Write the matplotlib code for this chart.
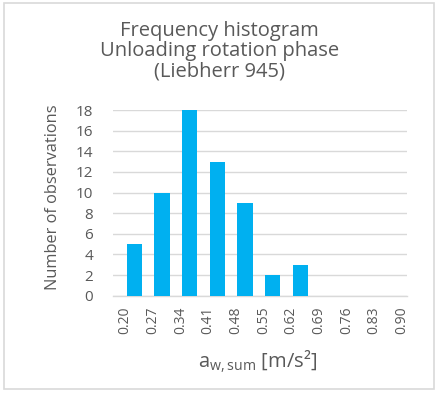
import matplotlib
matplotlib.use('Agg')
import matplotlib.pyplot as plt
from matplotlib.patches import Rectangle

plt.rcParams['font.family'] = ['Open Sans', 'DejaVu Sans']
plt.rcParams['mathtext.default'] = 'regular'

# Bin edges shown as tick labels, counts per bin
bin_labels = ['0.20', '0.27', '0.34', '0.41', '0.48', '0.55', '0.62', '0.69', '0.76', '0.83', '0.90']
counts = [5, 10, 18, 13, 9, 2, 3, 0, 0, 0]
y_ticks = [0, 2, 4, 6, 8, 10, 12, 14, 16, 18]

text_col = '#595959'
grid_col = '#d9d9d9'
bar_col = '#00b0f0'

fig = plt.figure(figsize=(4.39, 3.94), dpi=100)
ax = fig.add_axes([0.2567, 0.2495, 0.6711, 0.4713])

# border round the chart
fig.patches.append(Rectangle((4 / 439, 5 / 394), 430 / 439, 386 / 394, transform=fig.transFigure,
                             fill=False, edgecolor=grid_col, linewidth=1.2))

xs = [i + 0.33 for i in range(len(counts))]
ax.bar(xs, counts, width=0.55, color=bar_col, zorder=3)

ax.set_xticks(range(len(bin_labels)))
ax.set_xticklabels(bin_labels, rotation=90, fontsize=10, color=text_col)
ax.set_xlim(-0.45, 10.2)
ax.set_ylim(0, 18)
ax.set_yticks(y_ticks)
ax.set_yticklabels([str(v) for v in y_ticks], fontsize=11, color=text_col)
ax.tick_params(length=0)
ax.tick_params(axis='y', pad=14)
ax.tick_params(axis='x', pad=8)

ax.grid(axis='y', color=grid_col, linewidth=1, zorder=0)
for s in ['top', 'right', 'left']:
    ax.spines[s].set_visible(False)
ax.spines['bottom'].set_color(grid_col)
ax.spines['bottom'].set_linewidth(1)

ax.set_ylabel('Number of observations', fontsize=11.8, color=text_col)
ax.yaxis.set_label_coords(-0.175, 0.53)
ax.set_xlabel('a$_{w,sum}$ [m/s²]', fontsize=14.5, color=text_col)
ax.xaxis.set_label_coords(0.49, -0.285)

fig.text(0.5, 1 - 31 / 394, 'Frequency histogram', ha='center', va='center', fontsize=14.5, color=text_col)
fig.text(0.5, 1 - 51 / 394, 'Unloading rotation phase', ha='center', va='center', fontsize=14.5, color=text_col)
fig.text(0.5, 1 - 72 / 394, '(Liebherr 945)', ha='center', va='center', fontsize=14.5, color=text_col)

fig.savefig('out.png', dpi=100)
